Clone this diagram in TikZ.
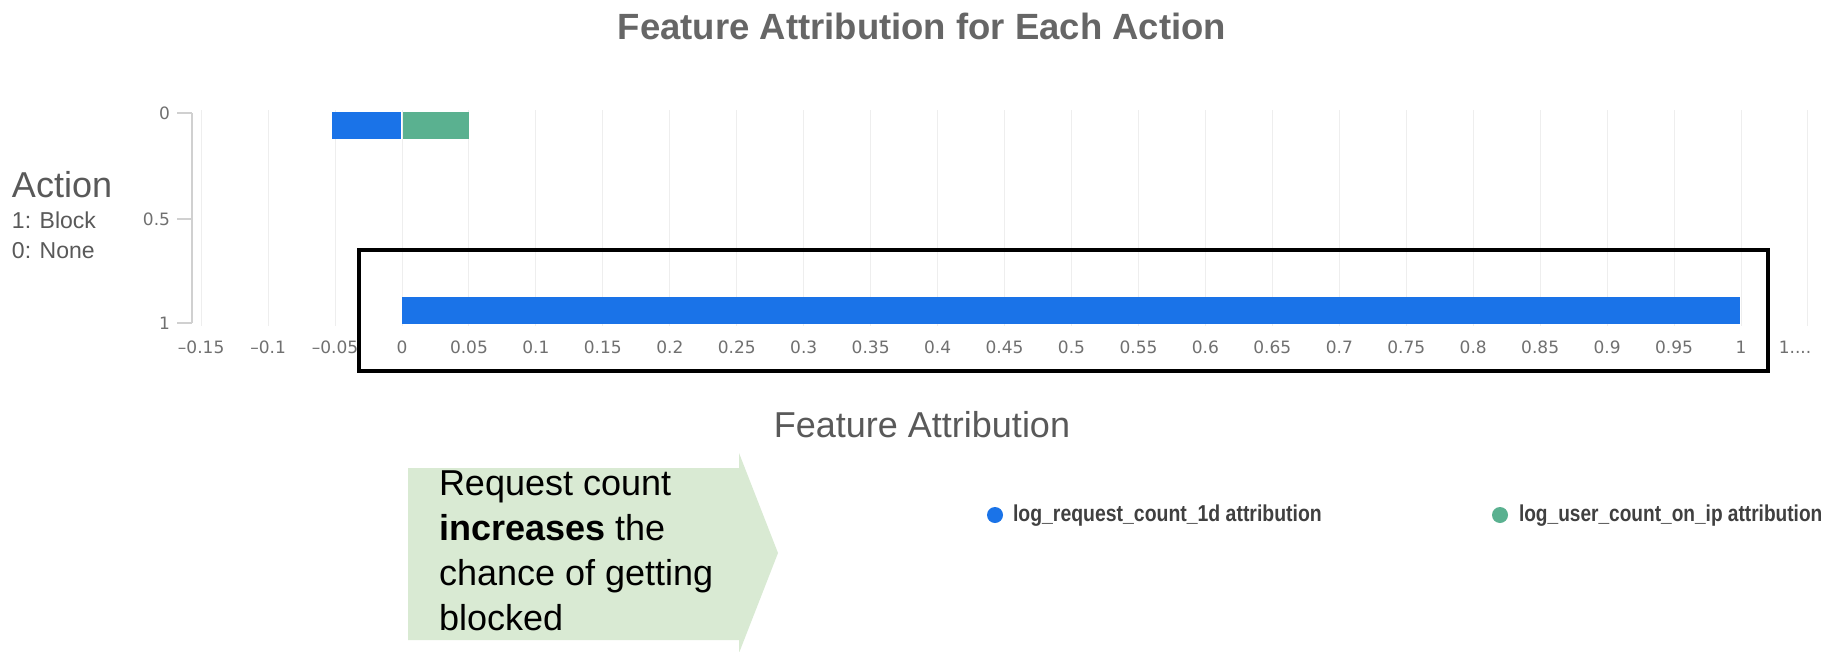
\documentclass[tikz,border=0pt]{standalone}
\usepackage{fontspec}
\usepackage{graphicx}
\setmainfont{Liberation Sans}
\newfontfamily\tickfont{DejaVu Sans}
\definecolor{barblue}{HTML}{1A73E8}
\definecolor{bargreen}{HTML}{5AB190}
\definecolor{boxgreen}{HTML}{D9EAD3}
\definecolor{titlegray}{HTML}{666666}
\definecolor{labelgray}{HTML}{595959}
\definecolor{tickgray}{HTML}{707070}
\definecolor{gridgray}{HTML}{EEEEEE}
\definecolor{axisgray}{HTML}{D0D0D0}
\definecolor{legendgray}{HTML}{404040}
\tikzset{
  txt/.style={inner sep=0pt, outer sep=0pt},
  ticklabel/.style={txt, font=\tickfont\fontsize{17}{20}\selectfont, text=tickgray},
  gridline/.style={draw=gridgray, line width=1pt},
  axisline/.style={draw=axisgray, line width=1.2pt},
  legendtext/.style={txt, font=\bfseries\fontsize{23}{26}\selectfont, text=legendgray, anchor=west},
}
\begin{document}
\begin{tikzpicture}[x=1pt,y=-1pt]
\useasboundingbox[fill=white] (0,0) rectangle (1829,651);
% title
\node[txt, anchor=base, font=\bfseries\fontsize{36.5}{40}\selectfont, text=titlegray] (title) at (922,39) {Feature Attribution for Each Action};
% grid lines
\foreach \k in {-3,...,21} {
  \draw[gridline] ({402+66.95*\k},110) -- ({402+66.95*\k},326);
}
% y axis
\draw[axisline] (192,113) -- (192,323);
\foreach \yy/\lab/\nm in {113/0/ya, 219/0.5/yb, 323/1/yc} {
  \draw[axisline] (177,\yy) -- (192,\yy);
  \node[ticklabel, anchor=east] (\nm) at (170,\yy) {\lab};
}
% x tick labels
\foreach \k/\lab in {-3/–0.15,-2/–0.1,-1/–0.05,0/0,1/0.05,2/0.1,3/0.15,4/0.2,5/0.25,6/0.3,7/0.35,8/0.4,9/0.45,10/0.5,11/0.55,12/0.6,13/0.65,14/0.7,15/0.75,16/0.8,17/0.85,18/0.9,19/0.95,20/1} {
  \node[ticklabel, anchor=base] (xt\k) at ({402+66.95*\k},353) {\lab};
}
\node[ticklabel, anchor=base] (xtmore) at (1795,353) {1....};
% bars
\fill[barblue] (332,112) rectangle (401,139);
\fill[bargreen] (403,112) rectangle (469,139);
\fill[barblue] (402,297) rectangle (1740,324);
% highlight box
\draw[black, line width=4pt] (359,250) rectangle (1768,371);
% axis titles
\node[txt, anchor=base, font=\fontsize{36}{40}\selectfont, text=labelgray] (xtitle) at (922,437) {Feature Attribution};
\node[txt, anchor=base west, font=\fontsize{36}{40}\selectfont, text=labelgray] (action) at (12,197) {Action};
\node[txt, anchor=base west, font=\fontsize{23}{26}\selectfont, text=labelgray] (block) at (12,228) {1: Block};
\node[txt, anchor=base west, font=\fontsize{23}{26}\selectfont, text=labelgray] (none) at (12,258) {0: None};
% arrow callout
\fill[boxgreen] (408,468) -- (739,468) -- (739,453) -- (778,553) -- (739,653) -- (739,640) -- (408,640) -- cycle;
\node[txt, anchor=north west, align=left, font=\fontsize{36}{45}\selectfont, text=black] (callout) at (439,471)
  {Request count\\\textbf{increases} the\\chance of getting\\blocked};
% legend
\fill[barblue] (995,515) circle (8);
\node[legendtext] (leg1) at (1013,516) {\scalebox{0.845}[1]{log\_request\_count\_1d attribution}};
\fill[bargreen] (1500,515) circle (8);
\node[legendtext] (leg2) at (1519,516) {\scalebox{0.83}[1]{log\_user\_count\_on\_ip attribution}};
\end{tikzpicture}
\end{document}
